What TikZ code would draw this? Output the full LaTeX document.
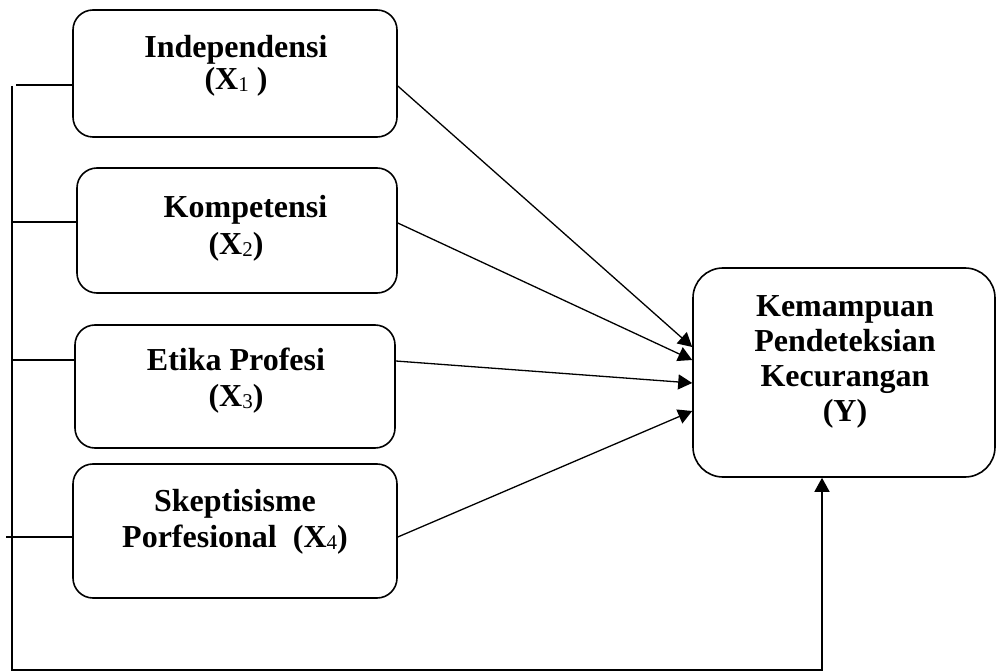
\documentclass[tikz,border=0pt]{standalone}
\usepackage{fontspec}
\setmainfont{Liberation Serif}
\usetikzlibrary{arrows.meta}
\newcommand\subx[1]{\raisebox{-2.5pt}{\fontsize{21}{21}\selectfont\mdseries #1}}

\begin{document}
\begin{tikzpicture}[x=1pt,y=-1pt,
    varbox/.style={draw,line width=1.6pt,rounded corners=20pt,inner sep=0pt},
    varlabel/.style={align=center,inner sep=0pt,font=\fontsize{32}{#1}\selectfont\bfseries},
    varlabel/.default=35,
    bus/.style={line width=1.5pt},
    arr/.style={line width=1.3pt,-{Triangle[length=14pt,width=15pt]}}]
\useasboundingbox (0,0) rectangle (997,671);

% variable boxes
\node[varbox,minimum width=324pt,minimum height=127pt] (x1) at (235,73.5) {};
\node[varbox,minimum width=320pt,minimum height=125pt] (x2) at (237,230.5) {};
\node[varbox,minimum width=320pt,minimum height=123pt] (x3) at (235,386.5) {};
\node[varbox,minimum width=324pt,minimum height=134pt] (x4) at (235,531) {};
\node[varbox,rounded corners=30pt,minimum width=302pt,minimum height=209pt] (ykec) at (844,372.5) {};

% box texts
\node[varlabel=32] (x1text) at (236,65.5) {Independensi\\(X\subx{1} )};
\node[varlabel=37] (x2text) at (236,228) {\hspace*{19pt}Kompetensi\\(X\subx{2})};
\node[varlabel=36] (x3text) at (236,380.3) {Etika Profesi\\(X\subx{3})};
\node[varlabel=36] (x4text) at (235,521.5) {Skeptisisme\\Porfesional\ \ (X\subx{4})};
\node[varlabel] (ytext) at (845,362) {Kemampuan\\Pendeteksian\\Kecurangan\\(Y)};

% partial effects
\draw[arr] ([yshift=-12.5pt]x1.east) -- ([yshift=25.5pt]ykec.west);
\draw[arr] ([yshift=7.5pt]x2.east) -- ([yshift=12.5pt]ykec.west);
\draw[arr] ([yshift=25.5pt]x3.east) -- ([yshift=-10.5pt]ykec.west);
\draw[arr] ([yshift=-6pt]x4.east) -- ([yshift=-38.5pt]ykec.west);

% simultaneous effect
\coordinate (bustop) at (12,86);
\coordinate (buscorner) at (12,670);
\foreach \n/\s/\e in {x1/-11.5/4,x2/8.5/0,x3/26.5/0,x4/-6/-6}{
  \path ([yshift=\s pt]\n.west) coordinate (stub);
  \draw[bus,shorten >=\e pt] (stub) -- (stub -| bustop);
}
\draw[arr,line width=1.5pt] (bustop) -- (buscorner) -| ([xshift=-22pt]ykec.south);
\end{tikzpicture}
\end{document}
